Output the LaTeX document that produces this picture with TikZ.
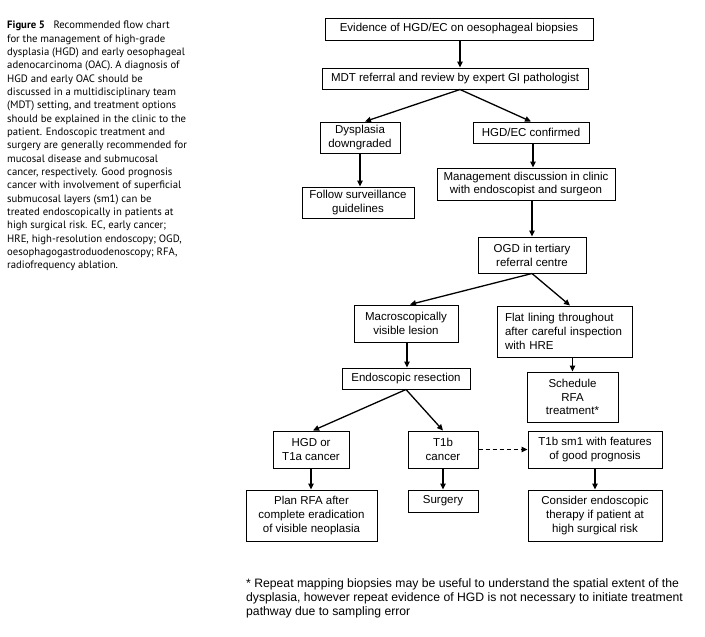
\documentclass[tikz,border=0pt]{standalone}
\usepackage{fontspec}
\setmainfont{Liberation Sans}
\newfontfamily\capfont{PT Sans}
\usetikzlibrary{arrows.meta,calc}
\begin{document}
\begin{tikzpicture}[x=1pt,y=-1pt,
  fbox/.style={draw=black,line width=1pt,inner sep=0pt,align=center,
    font=\fontsize{11.5}{13.8}\selectfont},
  conn/.style={line width=1.3pt,-{Triangle[width=5.5pt,length=6pt]}},
]
\useasboundingbox[fill=white] (0,0) rectangle (705,637);

% caption
\node[anchor=north west,inner sep=0pt,align=left,
  font=\capfont\fontsize{10.7}{13.33}\selectfont] (cap) at (7,21) {%
\textbf{Figure 5}\hspace{0.8em}Recommended flow chart\\
for the management of high-grade\\
dysplasia (HGD) and early oesophageal\\
adenocarcinoma (OAC). A diagnosis of\\
HGD and early OAC should be\\
discussed in a multidisciplinary team\\
(MDT) setting, and treatment options\\
should be explained in the clinic to the\\
patient. Endoscopic treatment and\\
surgery are generally recommended for\\
mucosal disease and submucosal\\
cancer, respectively. Good prognosis\\
cancer with involvement of superficial\\
submucosal layers (sm1) can be\\
treated endoscopically in patients at\\
high surgical risk. EC, early cancer;\\
HRE, high-resolution endoscopy; OGD,\\
oesophagogastroduodenoscopy; RFA,\\
radiofrequency ablation.};

% boxes
\node[fbox,minimum width=268pt,minimum height=22pt] (b1) at (459,29) {Evidence of HGD/EC on oesophageal biopsies};
\node[fbox,minimum width=266pt,minimum height=21pt] (b2) at (455,78.5) {MDT referral and review by expert GI pathologist};
\node[fbox,minimum width=80pt,minimum height=31pt] (dys) at (360,137.5) {Dysplasia\\downgraded};
\node[fbox,minimum width=116pt,minimum height=21pt] (conf) at (531,132.5) {HGD/EC confirmed};
\node[fbox,minimum width=112pt,minimum height=31pt] (follow) at (358,202.5) {Follow surveillance\\guidelines};
\node[fbox,minimum width=178pt,minimum height=32pt] (mgmt) at (526,184) {Management discussion in clinic\\with endoscopist and surgeon};
\node[fbox,minimum width=108pt,minimum height=36pt] (ogd) at (532,255) {OGD in tertiary\\referral centre};
\node[fbox,minimum width=104pt,minimum height=37pt] (macro) at (406,323.5) {Macroscopically\\visible lesion};
\node[fbox,align=left,text width=119pt,inner xsep=8pt,minimum height=51pt] (flat) at (564.5,331.5) {Flat lining throughout\\after careful inspection\\with HRE};
\node[fbox,minimum width=128pt,minimum height=21pt] (endo) at (406,378.5) {Endoscopic resection};
\node[fbox,minimum width=91pt,minimum height=50pt] (sched) at (572.5,397) {Schedule\\RFA\\treatment*};
\node[fbox,minimum width=76pt,minimum height=37pt] (hgd) at (311,449.5) {HGD or\\T1a cancer};
\node[fbox,minimum width=70pt,minimum height=37pt] (t1b) at (443,449.5) {T1b\\cancer};
\node[fbox,minimum width=134pt,minimum height=37pt] (sm1) at (595,449.5) {T1b sm1 with features\\of good prognosis};
\node[fbox,minimum width=131pt,minimum height=51pt] (plan) at (311.5,515.5) {Plan RFA after\\complete eradication\\of visible neoplasia};
\node[fbox,minimum width=70pt,minimum height=22pt] (surg) at (443,501) {Surgery};
\node[fbox,minimum width=134pt,minimum height=51pt] (cons) at (595,515.5) {Consider endoscopic\\therapy if patient at\\high surgical risk};

% footnote
\node[anchor=north west,inner sep=0pt,align=left,
  font=\fontsize{12.2}{14.2}\selectfont] (foot) at (246,578) {%
* Repeat mapping biopsies may be useful to understand the spatial extent of the\\
dysplasia, however repeat evidence of HGD is not necessary to initiate treatment\\
pathway due to sampling error};

% connectors
\draw[conn] ([xshift=1pt]b1.south) -- ([xshift=1pt]b1.south |- b2.north);
\draw[conn] ([xshift=5pt]b2.south) -- ([xshift=5pt]dys.north);
\draw[conn] ([xshift=5pt]b2.south) -- (conf.north);
\draw[conn] (dys.south) -- (dys.south |- follow.north);
\draw[conn] ([xshift=2pt]conf.south) -- ([xshift=2pt]conf.south |- mgmt.north);
\draw[conn] (ogd.north |- mgmt.south) -- (ogd.north);
\draw[conn] (ogd.south) -- ([xshift=4pt]macro.north);
\draw[conn] (ogd.south) -- ([xshift=5.5pt]flat.north);
\draw[conn] ([xshift=1pt]macro.south) -- ([xshift=1pt]macro.south |- endo.north);
\draw[conn] (sched.north |- flat.south) -- (sched.north);
\draw[conn] (endo.south) -- ([xshift=2pt]hgd.north);
\draw[conn] (endo.south) -- (t1b.north);
\draw[conn] (hgd.south) -- (hgd.south |- plan.north);
\draw[conn] (t1b.south) -- (surg.north);
\draw[conn] (sm1.south) -- (cons.north);
\draw[conn,dash pattern=on 4pt off 3pt] (t1b.east) -- (sm1.west);
\end{tikzpicture}
\end{document}
